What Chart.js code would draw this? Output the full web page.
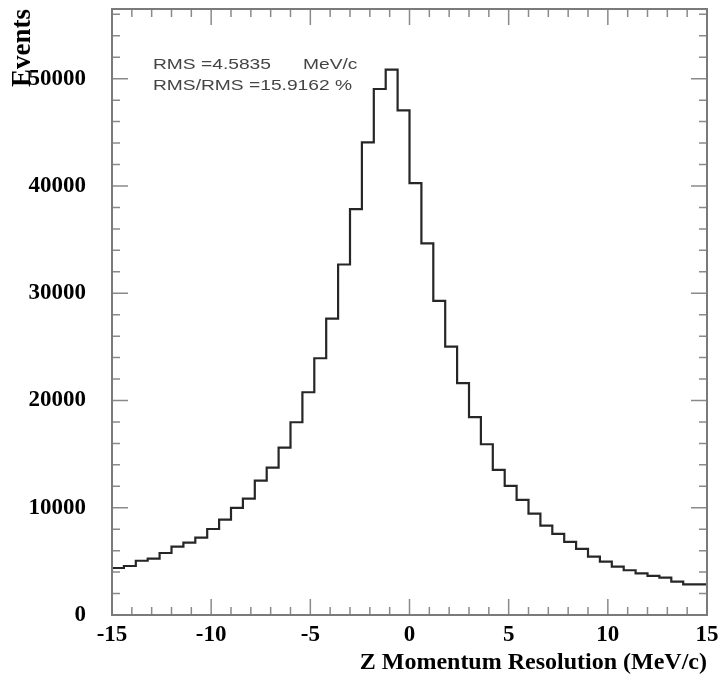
<!DOCTYPE html>
<html>
<head>
<meta charset="utf-8">
<script src="https://cdn.jsdelivr.net/npm/chart.js@4.4.1/dist/chart.umd.min.js"></script>
<style>
    html, body { margin: 0; padding: 0; background: #fff; }
    #chart { display: block; }
</style>
</head>
<body>
<canvas id="chart" width="719" height="678"></canvas>
<script>
// histogram: 50 bins of 0.6 MeV/c from -15 to 15
const binStart = -15;
const binWidth = 0.6;
const counts = [
    4040, 4380, 4570, 5060, 5250, 5780, 6370, 6750, 7210, 8020,
    8890, 9980, 10850, 12530, 13740, 15610, 17970, 20770, 23940, 27640,
    32680, 37850, 44060, 49040, 50840, 47040, 40270, 34650, 29290, 25030,
    21610, 18440, 15920, 13530, 12030, 10730, 9450, 8330, 7560, 6810,
    6160, 5440, 4970, 4510, 4170, 3890, 3640, 3480, 3110, 2860
];
const xRange = [-15, 15];
const yRange = [0, 56500];
const xTickLabels = [-15, -10, -5, 0, 5, 10, 15];
const yTickLabels = [0, 10000, 20000, 30000, 40000, 50000];
const statsLines = [
    ['RMS =4.5835', 'MeV/c'],
    ['RMS/RMS =15.9162 %']
];
const xTitle = 'Z Momentum Resolution (MeV/c)';
const yTitle = 'Events';

// step outline: left edge of each bin, plus the closing right edge
const points = counts.map((c, i) => ({ x: binStart + i * binWidth, y: c }));
points.push({ x: binStart + counts.length * binWidth, y: counts[counts.length - 1] });

const serif = '"Liberation Serif", "Times New Roman", serif';

const frameTicks = {
    id: 'frameTicks',
    afterDraw(chart) {
        const { ctx, chartArea: a, scales: { x, y } } = chart;
        ctx.save();

        // inward tick marks on all four sides
        ctx.strokeStyle = '#8a8a8a';
        ctx.lineWidth = 1.5;
        ctx.beginPath();
        for (let v = xRange[0] + 1; v < xRange[1]; v++) {
            const px = x.getPixelForValue(v);
            const len = v % 5 === 0 ? 16 : 8;
            ctx.moveTo(px, a.bottom);
            ctx.lineTo(px, a.bottom - len);
            ctx.moveTo(px, a.top);
            ctx.lineTo(px, a.top + len);
        }
        for (let v = 2000; v < yRange[1]; v += 2000) {
            const py = y.getPixelForValue(v);
            const len = v % 10000 === 0 ? 16 : 8;
            ctx.moveTo(a.left, py);
            ctx.lineTo(a.left + len, py);
            ctx.moveTo(a.right, py);
            ctx.lineTo(a.right - len, py);
        }
        ctx.stroke();

        ctx.strokeStyle = '#7a7a7a';
        ctx.lineWidth = 2;
        ctx.strokeRect(a.left, a.top, a.right - a.left, a.bottom - a.top);

        // statistics box text (wide stroke-style font, so stretch it)
        ctx.fillStyle = '#444';
        ctx.font = '15px "Liberation Sans", Arial, sans-serif';
        ctx.textBaseline = 'middle';
        const put = (text, px, py) => {
            ctx.save();
            ctx.translate(px, py);
            ctx.scale(1.28, 1);
            ctx.fillText(text, 0, 0);
            ctx.restore();
        };
        put(statsLines[0][0], 153, 65);
        put(statsLines[0][1], 303, 65);
        put(statsLines[1][0], 153, 86);

        ctx.restore();
    }
};

new Chart(document.getElementById('chart'), {
    type: 'line',
    data: {
        datasets: [{
            data: points,
            stepped: 'after',
            borderColor: '#262626',
            borderWidth: 2.2,
            pointRadius: 0,
            fill: false
        }]
    },
    options: {
        responsive: false,
        animation: false,
        events: [],
        layout: { padding: { left: 0, right: 12, top: 9, bottom: 0 } },
        plugins: {
            legend: { display: false },
            tooltip: { enabled: false }
        },
        scales: {
            x: {
                type: 'linear',
                min: xRange[0],
                max: xRange[1],
                grid: { display: false, drawTicks: false },
                border: { display: false },
                afterBuildTicks(scale) {
                    scale.ticks = xTickLabels.map(v => ({ value: v }));
                },
                ticks: {
                    padding: 6,
                    color: '#000',
                    font: { family: serif, size: 23, weight: 'bold' },
                    maxRotation: 0,
                    autoSkip: false,
                    callback: v => String(v)
                },
                title: {
                    display: true,
                    text: xTitle,
                    align: 'end',
                    color: '#000',
                    font: { family: serif, size: 24, weight: 'bold' },
                    padding: { top: 0, bottom: 1 }
                },
                afterFit(scale) {
                    scale.height = 63;
                    scale.paddingLeft = 0;
                    scale.paddingRight = 0;
                }
            },
            y: {
                min: yRange[0],
                max: yRange[1],
                grid: { display: false, drawTicks: false },
                border: { display: false },
                afterBuildTicks(scale) {
                    scale.ticks = yTickLabels.map(v => ({ value: v }));
                },
                ticks: {
                    padding: 26,
                    color: '#000',
                    autoSkip: false,
                    font: { family: serif, size: 23, weight: 'bold' },
                    callback: v => String(v)
                },
                title: {
                    display: true,
                    text: yTitle,
                    align: 'end',
                    color: '#000',
                    font: { family: serif, size: 27, weight: 'bold' },
                    padding: { top: 7, bottom: 0 }
                },
                afterFit(scale) {
                    scale.width = 112;
                    scale.paddingTop = 0;
                    scale.paddingBottom = 0;
                }
            }
        }
    },
    plugins: [frameTicks]
});
</script>
</body>
</html>
